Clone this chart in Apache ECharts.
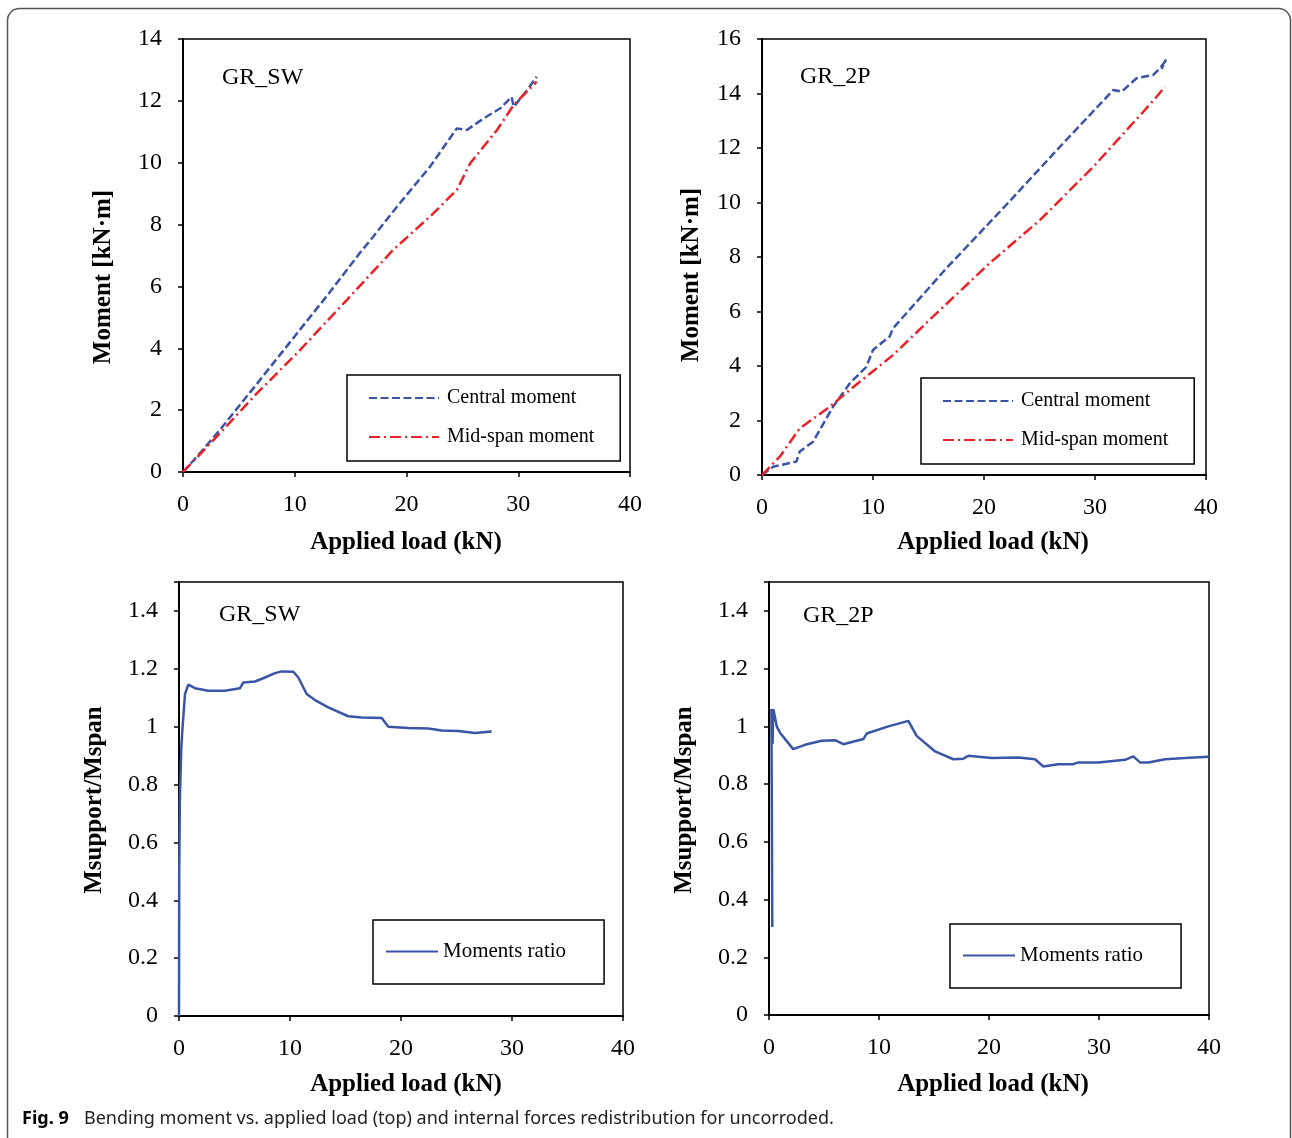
<!DOCTYPE html>
<html>
<head>
<meta charset="utf-8">
<script src="https://cdn.jsdelivr.net/npm/echarts@6/dist/echarts.min.js"></script>
<style>
html,body{margin:0;padding:0;background:#fff;}
#c{width:1292px;height:1138px;}
</style>
</head>
<body>
<div id="c"></div>
<script>
// ---- Data ----
const xTicks = [0, 10, 20, 30, 40];

// Top-left GR_SW
const swCentralX = [0, 1.5, 3.3, 6.5, 10.2, 13, 15.8, 17, 19.4, 22.1, 24.5, 25.4, 26.9, 28.4, 29.4, 29.6, 30.8, 31.65];
const swCentralY = [0, 0.6, 1.36, 2.8, 4.48, 5.75, 7.07, 7.6, 8.69, 9.87, 11.11, 11.06, 11.43, 11.76, 12.13, 11.81, 12.35, 12.78];
const swMidX = [0, 3.3, 6.6, 10.2, 14.65, 18.8, 22.4, 24.5, 25.7, 28.1, 29.6, 31.65];
const swMidY = [0, 1.25, 2.54, 3.84, 5.56, 7.18, 8.36, 9.12, 9.98, 11.06, 11.87, 12.62];

// Top-right GR_2P
const p2CentralX = [0, 1.0, 3.1, 3.4, 4.6, 6.4, 7.9, 9.4, 10.0, 11.5, 11.8, 16.6, 22.0, 26.85, 31.65, 32.4, 33.75, 35.25, 35.85, 36.3, 36.0, 36.4];
const p2CentralY = [0, 0.3, 0.49, 0.86, 1.22, 2.5, 3.36, 3.97, 4.59, 5.08, 5.38, 7.58, 9.91, 12.05, 14.13, 14.07, 14.56, 14.68, 14.92, 15.17, 14.9, 15.25];
const p2MidX = [0, 1.6, 3.4, 6.1, 7.9, 11.8, 15.4, 20.5, 25.05, 29.85, 32.85, 34.35, 35.55, 36.3];
const p2MidY = [0, 0.67, 1.71, 2.5, 3.12, 4.4, 5.81, 7.77, 9.36, 11.31, 12.66, 13.33, 13.88, 14.25];

// Bottom-left GR_SW ratio
const swRatioX = [0, 0.02, 0.08, 0.2, 0.3, 0.54, 0.84, 1.44, 2.64, 4.14, 5.5, 5.8, 6.85, 7.75, 8.65, 9.25, 10.3, 10.75, 11.5, 12.25, 13.45, 15.25, 16.46, 18.26, 18.86, 20.66, 22.46, 23.66, 25.17, 26.67, 28.17];
const swRatioY = [0, 0.5, 0.75, 0.92, 0.986, 1.113, 1.145, 1.133, 1.124, 1.124, 1.133, 1.153, 1.156, 1.17, 1.185, 1.191, 1.19, 1.17, 1.113, 1.092, 1.067, 1.036, 1.032, 1.03, 1.0, 0.995, 0.994, 0.987, 0.985, 0.978, 0.983];

// Bottom-right GR_2P ratio
const p2RatioX = [0.3, 0.22, 0.3, 0.33, 0.38, 0.45, 0.7, 1.0, 2.2, 3.27, 4.79, 6.0, 6.76, 8.58, 8.88, 10.85, 12.67, 13.42, 15.1, 16.76, 17.67, 18.12, 20.24, 22.67, 24.18, 24.94, 26.3, 27.67, 28.12, 29.94, 32.36, 33.12, 33.73, 34.48, 36.0, 37.8, 40.0];
const p2RatioY = [0.305, 1.06, 1.05, 0.94, 1.06, 1.05, 1.0, 0.978, 0.921, 0.936, 0.95, 0.952, 0.938, 0.956, 0.975, 1.0, 1.019, 0.967, 0.913, 0.886, 0.888, 0.898, 0.89, 0.892, 0.886, 0.861, 0.869, 0.869, 0.875, 0.875, 0.884, 0.896, 0.875, 0.875, 0.886, 0.89, 0.895];

const panelLabels = ['GR_SW', 'GR_2P', 'GR_SW', 'GR_2P'];
const seriesNames = ['Central moment', 'Mid-span moment', 'Moments ratio'];
const xTitle = 'Applied load (kN)';
const yTitleTop = 'Moment [kN\u00b7m]';
const yTitleBottom = 'Msupport/Mspan';
const caption = 'Bending moment vs. applied load (top) and internal forces redistribution for uncorroded.';

// ---- Build ----
const zip = (xs, ys) => xs.map((x, i) => [x, ys[i]]);
const BLUE = '#3b55a6', RED = '#ec2027';
const SERIF = '"Liberation Serif", "Times New Roman", serif';
const SANS = '"Noto Sans", "Open Sans", sans-serif';

const grids = [
  {left: 183, top: 39, width: 447, height: 433},
  {left: 762, top: 39, width: 444, height: 436},
  {left: 179, top: 582, width: 444, height: 434},
  {left: 769, top: 582, width: 440, height: 433}
];

function xAxis(i) {
  return {
    type: 'value', gridIndex: i, min: 0, max: 40, interval: 10,
    axisLine: {show: true, onZero: false, lineStyle: {color: '#000', width: 2}},
    axisTick: {show: true, inside: false, length: 5, lineStyle: {color: '#000', width: 1.5}},
    axisLabel: {margin: 21, fontFamily: SERIF, fontSize: 24, color: '#000'},
    splitLine: {show: false}
  };
}
function yAxis(i, max, interval) {
  return {
    type: 'value', gridIndex: i, min: 0, max: max, interval: interval,
    axisLine: {show: true, onZero: false, lineStyle: {color: '#000', width: 2}},
    axisTick: {show: true, inside: false, length: 5, lineStyle: {color: '#000', width: 1.5}},
    axisLabel: {margin: 21, fontFamily: SERIF, fontSize: 24, color: '#000',
      formatter: v => (max === 1.5 && Math.abs(v - 1.5) < 1e-9) ? '' : String(Math.round(v * 10) / 10)},
    splitLine: {show: false}
  };
}

function lineSeries(name, xi, data, color, dash, width) {
  return {
    name: name, type: 'line', xAxisIndex: xi, yAxisIndex: xi, data: data,
    symbol: 'none', showSymbol: false, animation: false,
    lineStyle: {color: color, width: width, type: dash},
    itemStyle: {color: color}
  };
}

const dashed = [8, 3.5];
const dashDot = [11, 4, 2, 4];

function legend(left, top, names, pad, itemW, fontSize, gap, textPad) {
  return {
    left: left, top: top, orient: 'vertical', data: names,
    borderColor: '#000', borderWidth: 1.5, padding: pad,
    itemWidth: itemW, itemHeight: 14, itemGap: gap,
    selectedMode: false, backgroundColor: '#fff',
    itemStyle: {opacity: 0, borderWidth: 0},
    textStyle: {fontFamily: SERIF, fontSize: fontSize, color: '#000', padding: [0, 0, 0, textPad]}
  };
}

function text(x, y, str, opts) {
  return Object.assign({
    type: 'text', x: x, y: y, z: 100,
    style: Object.assign({text: str, fill: '#000', font: '24px ' + SERIF, textAlign: 'left', textVerticalAlign: 'middle'}, opts && opts.style || {})
  }, opts && opts.extra || {});
}
const ROT = {rotation: Math.PI / 2, originX: 0, originY: 0};
const TITLE = {font: 'bold 25px ' + SERIF, textAlign: 'center'};

const option = {
  backgroundColor: '#fff',
  animation: false,
  grid: grids.map(g => Object.assign({show: true, borderColor: '#000', borderWidth: 1.5, backgroundColor: 'transparent', containLabel: false}, g)),
  xAxis: [0, 1, 2, 3].map(xAxis),
  yAxis: [yAxis(0, 14, 2), yAxis(1, 16, 2), yAxis(2, 1.5, 0.2), yAxis(3, 1.5, 0.2)],
  legend: [
    legend(347, 375, [seriesNames[0], seriesNames[1]], [13, 26, 14, 21], 70, 20, 19, 3),
    legend(921, 378, [seriesNames[0], seriesNames[1]], [13, 26, 14, 21], 70, 20, 19, 3),
    legend(373, 920, [seriesNames[2]], [21, 38, 22, 12], 52, 21, 10, 0),
    legend(950, 924, [seriesNames[2]], [21, 38, 22, 12], 52, 21, 10, 0)
  ],
  series: [
    lineSeries(seriesNames[0], 0, zip(swCentralX, swCentralY), BLUE, dashed, 2.5),
    lineSeries(seriesNames[1], 0, zip(swMidX, swMidY), RED, dashDot, 2.5),
    lineSeries(seriesNames[0], 1, zip(p2CentralX, p2CentralY), BLUE, dashed, 2.5),
    lineSeries(seriesNames[1], 1, zip(p2MidX, p2MidY), RED, dashDot, 2.5),
    lineSeries(seriesNames[2], 2, zip(swRatioX, swRatioY), BLUE, 'solid', 2.5),
    lineSeries(seriesNames[2], 3, zip(p2RatioX, p2RatioY), BLUE, 'solid', 2.5)
  ],
  graphic: [
    {type: 'rect', shape: {x: 7.5, y: 8.5, width: 1283, height: 1170, r: 12}, style: {fill: 'none', stroke: '#555', lineWidth: 1.5}, z: 0, silent: true},
    text(222, 78, panelLabels[0]),
    text(800, 77, panelLabels[1]),
    text(219, 615, panelLabels[2]),
    text(803, 616, panelLabels[3]),
    text(406, 543, xTitle, {style: TITLE}),
    text(993, 543, xTitle, {style: TITLE}),
    text(406, 1085, xTitle, {style: TITLE}),
    text(993, 1085, xTitle, {style: TITLE}),
    text(104, 277, yTitleTop, {style: TITLE, extra: ROT}),
    text(692, 275, yTitleTop, {style: TITLE, extra: ROT}),
    text(95, 800, yTitleBottom, {style: TITLE, extra: ROT}),
    text(685, 800, yTitleBottom, {style: TITLE, extra: ROT}),
    text(22, 1119, 'Fig. 9', {style: {font: 'bold 18px ' + SANS}}),
    text(84, 1119, caption, {style: {font: '18px ' + SANS, fill: '#222'}})
  ]
};

const chart = echarts.init(document.getElementById('c'), null, {renderer: 'canvas'});
chart.setOption(option);
</script>
</body>
</html>
